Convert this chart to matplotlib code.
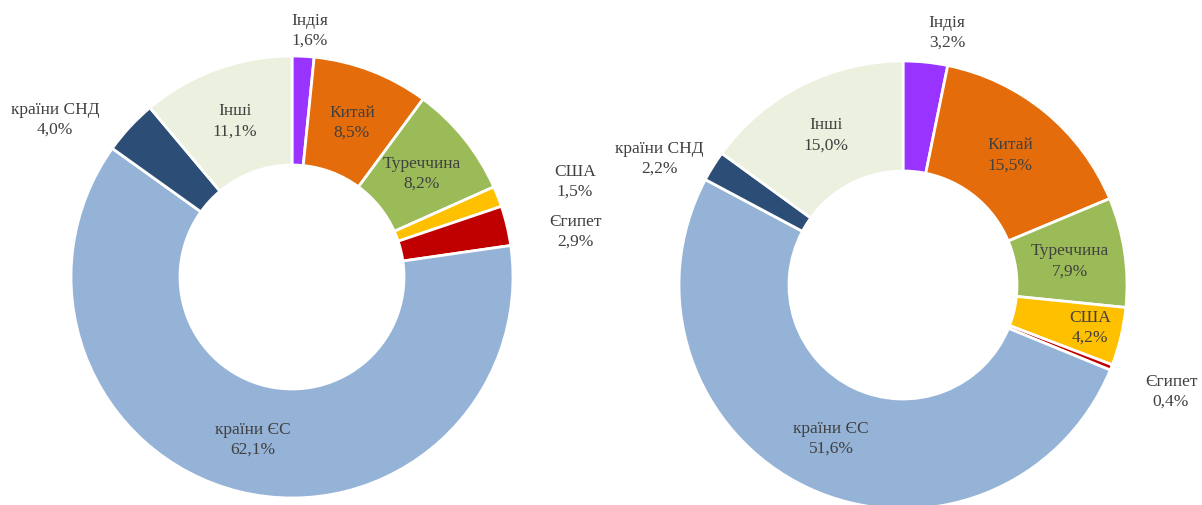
import numpy as np
import matplotlib
matplotlib.use("Agg")
import matplotlib.pyplot as plt

categories = ["Індія", "Китай", "Туреччина", "США", "Єгипет", "країни ЄС", "країни СНД", "Інші"]
values_left = [1.6, 8.5, 8.2, 1.5, 2.9, 62.1, 4.0, 11.1]
values_right = [3.2, 15.5, 7.9, 4.2, 0.4, 51.6, 2.2, 15.0]
colors = ["#9933FF", "#E46C0A", "#9BBB59", "#FFC000", "#C00000", "#95B3D7", "#2C4D75", "#EBF1DE"]

W, H = 1202, 506
fig = plt.figure(figsize=(W / 100, H / 100), dpi=100)
ax = fig.add_axes([0, 0, 1, 1])

FONT = dict(family="Liberation Serif", fontsize=12.5, color="#404040")


def fmt(v):
    return f"{v:.1f}%".replace(".", ",")


def donut(values, cx, cy, R, r_in, outside):
    # cy given in image pixel coordinates (top origin)
    cyd = H - cy
    wedges, _ = ax.pie(values, colors=colors, startangle=90, counterclock=False,
                       center=(cx, cyd), radius=R,
                       wedgeprops=dict(width=R - r_in, edgecolor="white", linewidth=2))
    total = sum(values)
    cum = 0
    rmid = (R + r_in) / 2
    for name, v in zip(categories, values):
        mid = (cum + v / 2) / total * 360
        cum += v
        if name in outside:
            x, y = outside[name]
            y = H - y
        else:
            a = np.deg2rad(mid)
            x = cx + rmid * np.sin(a)
            y = cyd + rmid * np.cos(a)
        ax.text(x, y, f"{name}\n{fmt(v)}", ha="center", va="center",
                linespacing=1.35, **FONT)


donut(values_left, 292, 278, 221, 112,
      {"Індія": (310, 31), "США": (575, 182), "Єгипет": (575, 232), "країни СНД": (55, 120)})
donut(values_right, 903, 286, 224, 114,
      {"Індія": (947, 33), "Єгипет": (1171, 392), "країни СНД": (659, 159), "США": (1090, 328)})

ax.set_xlim(0, W)
ax.set_ylim(0, H)
ax.set_aspect("auto")
ax.axis("off")
fig.savefig("out.png", dpi=100, facecolor="white")
